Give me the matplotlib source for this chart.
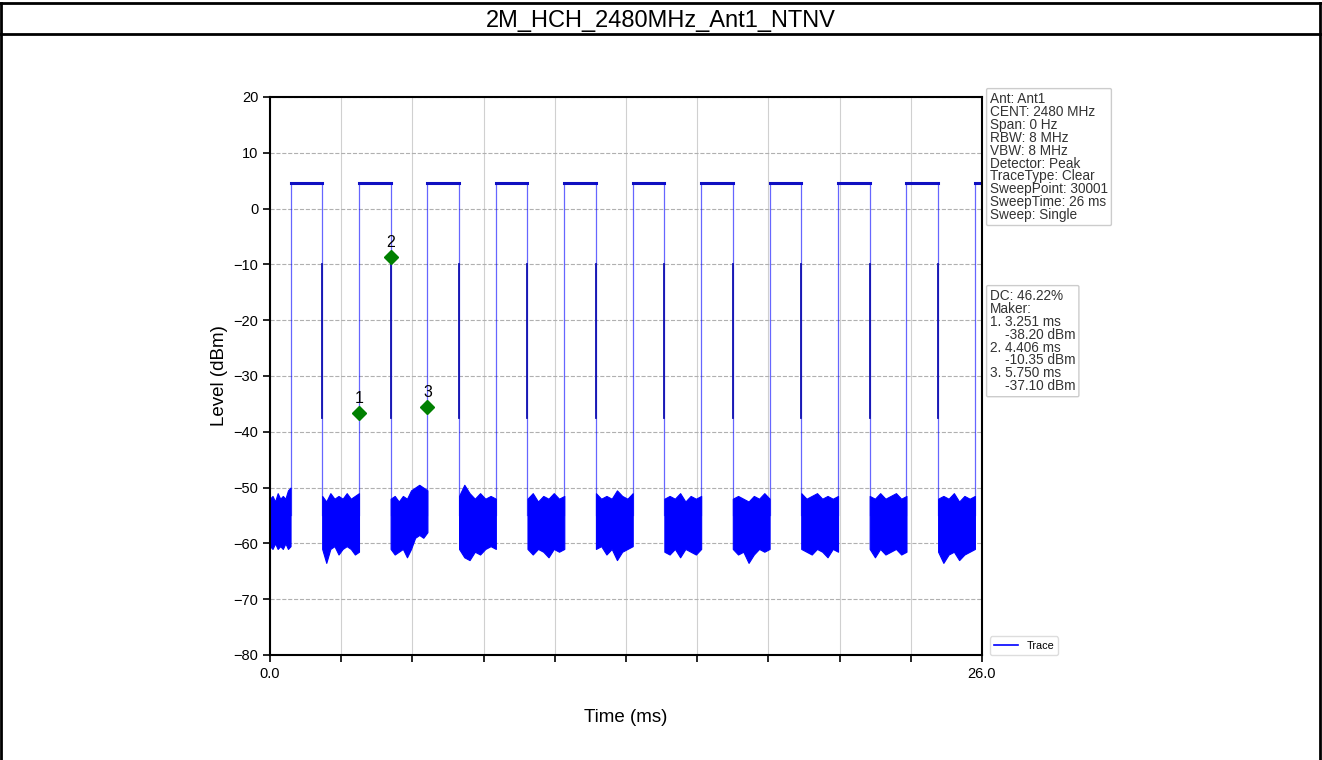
import numpy as np
import matplotlib
matplotlib.use("Agg")
import matplotlib.pyplot as plt
from matplotlib.lines import Line2D

plt.rcParams["font.family"] = ["Liberation Sans", "DejaVu Sans"]

title = "2M_HCH_2480MHz_Ant1_NTNV"

pulse_rise = [0.752, 3.251, 5.750, 8.249, 10.748, 13.247, 15.746, 18.245, 20.744, 23.243, 25.742]
pulse_fall = [1.907, 4.406, 6.905, 9.404, 11.903, 14.402, 16.901, 19.400, 21.899, 24.398, 26.0]
top_level = 4.5
fall_dark = [-10.0, -37.5]

# noise floor envelopes between pulses (dBm)
noise_upper = [
    [-52, -51.5, -52.5, -51, -52, -51.5, -52, -50.5, -50],
    [-51.5, -52.5, -51, -52, -51.5, -52, -51, -52, -51.5, -51],
    [-52, -51.5, -52.5, -51.5, -52, -50.5, -50, -49.5, -50, -50.5],
    [-51.5, -49.5, -51, -52, -51, -52, -51.5, -52],
    [-52, -51, -52.5, -51.5, -52, -51, -52, -51.5],
    [-51, -52, -51.5, -52, -50.5, -51.5, -52, -51],
    [-52, -51.5, -52, -51, -52.5, -51.5, -52, -51.5],
    [-52, -51.5, -52, -52.5, -51.5, -52, -51, -52],
    [-51, -52, -51.5, -51, -52, -51.5, -52, -51.5],
    [-51.5, -52, -51, -52, -51.5, -51, -52, -51.5],
    [-52, -51.5, -52, -51, -52.5, -51.5, -52, -51.5],
]
noise_lower = [
    [-60.5, -61, -60, -61, -60.5, -61, -60, -61, -60.5],
    [-61, -63.5, -61, -60.5, -62, -61, -60.5, -61, -62, -61.5],
    [-61, -62, -61.5, -61, -62.5, -61, -59, -58.5, -59, -58],
    [-61, -62.5, -63, -61.5, -62, -61, -60.5, -61],
    [-61, -62, -61, -61.5, -62.5, -61, -61.5, -61],
    [-61, -60.5, -62, -61, -63, -61.5, -61, -60.5],
    [-61.5, -62, -61, -62.5, -61, -61.5, -62, -61],
    [-61, -62, -61.5, -63.5, -62, -61, -61.5, -61],
    [-61, -61.5, -62, -61, -61.5, -62.5, -61, -61.5],
    [-61, -62.5, -61, -62, -61.5, -61, -62, -61.5],
    [-61.5, -63.5, -62, -61.5, -63, -62, -61.5, -61],
]

marker_time = [3.251, 4.406, 5.750]
marker_level = [-36.6, -8.7, -35.5]
marker_names = ["1", "2", "3"]

info_text = ("Ant: Ant1\nCENT: 2480 MHz\nSpan: 0 Hz\nRBW: 8 MHz\nVBW: 8 MHz\n"
             "Detector: Peak\nTraceType: Clear\nSweepPoint: 30001\n"
             "SweepTime: 26 ms\nSweep: Single")
marker_text = ("DC: 46.22%\nMaker:\n1. 3.251 ms\n    -38.20 dBm\n2. 4.406 ms\n"
               "    -10.35 dBm\n3. 5.750 ms\n    -37.10 dBm")

fig = plt.figure(figsize=(13.22, 7.6), dpi=100)
ax = fig.add_axes([0.2042, 0.1382, 0.5386, 0.7342])

trace_col = "#0000ff"
gap_start = [0.0] + pulse_fall[:-1]
for i in range(len(noise_upper)):
    xs = np.linspace(gap_start[i], pulse_rise[i], len(noise_upper[i]))
    ax.fill_between(xs, noise_lower[i], noise_upper[i], color=trace_col,
                    linewidth=0.8, edgecolor=trace_col)

for r, f in zip(pulse_rise, pulse_fall):
    ax.plot([r, r], [-55, top_level], color=trace_col, lw=0.9, alpha=0.6)
    ax.plot([r, f], [top_level, top_level], color="#1010c0", lw=2.2)
    if f < 26.0:
        ax.plot([f, f], [top_level, -55], color=trace_col, lw=0.9, alpha=0.6)
        ax.plot([f, f], fall_dark, color="#1010b0", lw=1.3)

ax.plot(marker_time, marker_level, "D", color="green", markersize=7, zorder=5)
for t, l, n in zip(marker_time, marker_level, marker_names):
    ax.text(t, l + 1.2, n, ha="center", va="bottom", fontsize=11.5)

ax.set_xlim(0, 26)
ax.set_ylim(-80, 20)
xt = np.linspace(0, 26, 11)
ax.set_xticks(xt)
ax.set_xticklabels(["0.0"] + [""] * 9 + ["26.0"], fontsize=10.5)
ax.set_yticks(range(-80, 21, 10))
ax.tick_params(axis="y", labelsize=10.5)
ax.tick_params(direction="out", length=5, width=1.2)
ax.grid(axis="x", color="#d0d0d0", lw=0.8)
ax.grid(axis="y", color="#b0b0b0", lw=0.8, ls="--")
ax.set_axisbelow(True)
for s in ax.spines.values():
    s.set_linewidth(1.5)
ax.set_xlabel("Time (ms)", fontsize=13.5, labelpad=20)
ax.set_ylabel("Level (dBm)", fontsize=13.5, labelpad=4)

box = dict(boxstyle="round,pad=0.25,rounding_size=0.1", fc="white", ec="#cccccc")
fig.text(990 / 1322, 1 - 92 / 760, info_text, ha="left", va="top", fontsize=9.8,
         linespacing=0.9, color="#333333", bbox=box)
fig.text(990 / 1322, 1 - 289 / 760, marker_text, ha="left", va="top", fontsize=9.8,
         linespacing=0.9, color="#333333", bbox=box)

handle = Line2D([], [], color=trace_col, lw=1.2)
ax.legend([handle], ["Trace"], loc="lower left", bbox_to_anchor=(1.003, -0.01),
          fontsize=7.8, handlelength=2.2, framealpha=1, edgecolor="#dddddd")

# table-like border with the title row
for y in [1 - 3 / 760, 1 - 34 / 760]:
    fig.add_artist(Line2D([0, 1], [y, y], color="black", lw=2))
for x in [1 / 1322, 1 - 2 / 1322]:
    fig.add_artist(Line2D([x, x], [0, 1 - 3 / 760], color="black", lw=2))
fig.text(0.5, 1 - 20.5 / 760, title, ha="center", va="center", fontsize=17)

fig.savefig("out.png", dpi=100)
